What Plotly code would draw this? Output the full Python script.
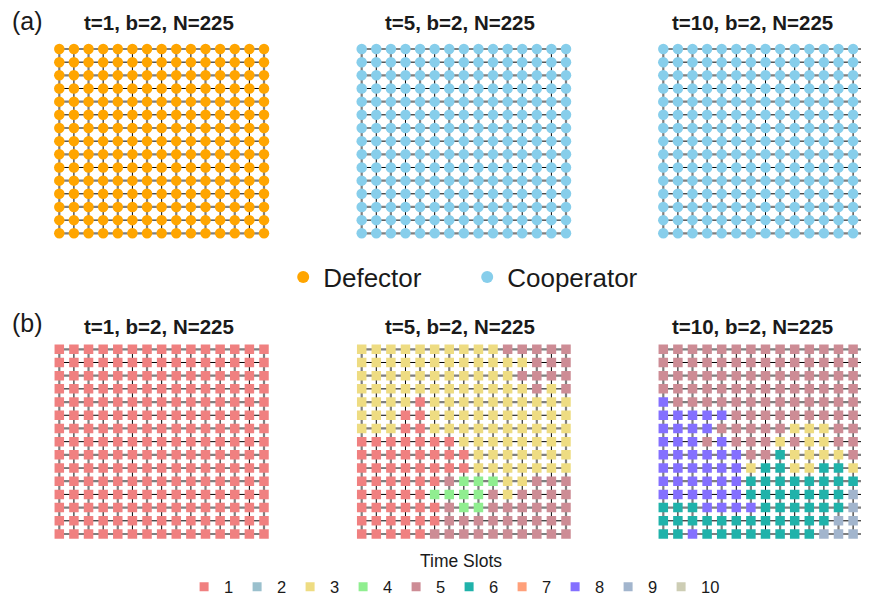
import plotly.graph_objects as go

# the page body adds an 8 px margin, so the figure is drawn 8 px smaller
OFF = 8
W, H = 869 - OFF, 597 - OFF
FONT = "Liberation Sans, Arial, Helvetica, sans-serif"

# ---------------- data ----------------
times = [1, 5, 10]
panel_titles = ["t=1, b=2, N=225", "t=5, b=2, N=225", "t=10, b=2, N=225"]
n_side = 15

# strategy of every node (row-major, 15 x 15): D = defector, C = cooperator
strategy_t1 = [["D"] * 15 for _ in range(15)]
strategy_t5 = [["C"] * 15 for _ in range(15)]
strategy_t10 = [["C"] * 15 for _ in range(15)]

# time slot of every node (row-major, top row first)
slot_t1 = [[1] * 15 for _ in range(15)]
slot_t5 = [
    [3, 3, 3, 3, 3, 3, 3, 3, 3, 3, 5, 5, 5, 5, 5],
    [3, 3, 3, 3, 3, 3, 3, 3, 3, 3, 3, 3, 5, 5, 5],
    [3, 3, 3, 3, 3, 3, 3, 3, 3, 3, 3, 5, 5, 5, 5],
    [3, 3, 3, 3, 3, 3, 3, 3, 3, 3, 3, 3, 5, 3, 5],
    [3, 3, 3, 3, 1, 3, 3, 3, 3, 3, 3, 3, 3, 3, 3],
    [3, 3, 3, 1, 1, 3, 3, 3, 3, 3, 3, 3, 3, 3, 3],
    [3, 3, 3, 1, 1, 3, 3, 3, 3, 3, 3, 3, 3, 3, 3],
    [1, 1, 1, 1, 1, 1, 1, 3, 3, 3, 3, 3, 3, 3, 3],
    [1, 1, 1, 1, 1, 1, 1, 1, 3, 3, 3, 3, 3, 3, 3],
    [1, 1, 1, 1, 1, 1, 1, 1, 3, 3, 3, 3, 3, 3, 3],
    [1, 1, 1, 1, 1, 1, 5, 4, 4, 4, 3, 3, 5, 5, 5],
    [1, 1, 1, 1, 1, 4, 4, 4, 4, 5, 3, 5, 5, 5, 5],
    [1, 1, 1, 1, 1, 1, 5, 4, 4, 5, 5, 5, 5, 5, 5],
    [1, 1, 1, 1, 1, 1, 5, 5, 5, 5, 5, 5, 5, 5, 5],
    [1, 1, 1, 1, 1, 5, 5, 5, 5, 5, 5, 5, 5, 5, 5],
]
slot_t10 = [
    [5, 5, 5, 5, 5, 5, 5, 5, 5, 5, 5, 5, 5, 5, 5],
    [5, 5, 5, 5, 5, 5, 5, 5, 5, 5, 5, 5, 5, 5, 5],
    [5, 5, 5, 5, 5, 5, 5, 5, 5, 5, 5, 5, 5, 5, 5],
    [5, 5, 5, 5, 5, 5, 5, 5, 5, 5, 5, 5, 5, 5, 5],
    [8, 5, 5, 5, 5, 5, 5, 5, 5, 5, 5, 5, 5, 5, 5],
    [8, 8, 8, 8, 8, 5, 5, 5, 5, 5, 5, 5, 5, 5, 5],
    [8, 8, 8, 8, 5, 5, 5, 5, 5, 3, 3, 3, 5, 5, 5],
    [8, 8, 8, 5, 8, 5, 5, 5, 3, 5, 3, 3, 5, 5, 5],
    [8, 8, 8, 8, 8, 8, 5, 5, 6, 3, 3, 3, 3, 5, 3],
    [8, 8, 8, 8, 8, 8, 3, 6, 6, 3, 3, 6, 6, 3, 9],
    [8, 8, 8, 8, 8, 8, 6, 6, 6, 6, 6, 6, 6, 6, 6],
    [8, 8, 8, 8, 8, 8, 6, 6, 6, 6, 6, 6, 6, 9, 9],
    [6, 6, 6, 8, 8, 8, 8, 6, 6, 6, 6, 6, 6, 9, 9],
    [6, 6, 6, 6, 6, 6, 6, 6, 6, 6, 6, 6, 9, 9, 9],
    [6, 6, 8, 6, 6, 6, 6, 6, 6, 6, 6, 9, 9, 9, 9],
]

strategy_names = {"D": "Defector", "C": "Cooperator"}
strategy_colors = {"D": "#FFA500", "C": "#87CEEB"}
slot_title = "Time Slots"
slot_labels = [1, 2, 3, 4, 5, 6, 7, 8, 9, 10]
slot_colors = ["#F08080", "#9AC0CD", "#EEDC82", "#90EE90", "#CD8C95",
               "#20B2AA", "#FFA07A", "#8470FF", "#A2B5CD", "#CDCDB4"]

strategies = [strategy_t1, strategy_t5, strategy_t10]
slots = [slot_t1, slot_t5, slot_t10]

# ---------------- layout geometry (window pixels) ----------------
PANEL_X = [(59.3, 264.0), (361.7, 566.0), (663.3, 867.7)]
ROW_Y = [(49.0, 233.3), (349.3, 534.0)]
TITLE_X = [159, 460, 752]
TITLE_Y = [22, 326]


def px(v):
    return (v - OFF) / W


def py(v):
    return 1 - (v - OFF) / H


fig = go.Figure()
layout_axes = {}


def axis_setup(row, col):
    idx = row * 3 + col + 1
    x0, x1 = [v - OFF for v in PANEL_X[col]]
    s = (x1 - x0) / (n_side - 1)
    left = x0 - 0.5 * s
    right = x1 + 0.5 * s
    rmax = n_side + 0.5
    if right > W:
        rmax -= (right - W) / s
        right = W
    y0, y1 = [v - OFF for v in ROW_Y[row]]
    sy = (y1 - y0) / (n_side - 1)
    top = y0 - 0.5 * sy
    bot = y1 + 0.5 * sy
    xa = "xaxis" if idx == 1 else f"xaxis{idx}"
    ya = "yaxis" if idx == 1 else f"yaxis{idx}"
    layout_axes[xa] = dict(domain=[left / W, right / W], range=[0.5, rmax],
                           visible=False, fixedrange=True,
                           anchor="y" if idx == 1 else f"y{idx}")
    layout_axes[ya] = dict(domain=[1 - bot / H, 1 - top / H],
                           range=[n_side + 0.5, 0.5], visible=False, fixedrange=True,
                           anchor="x" if idx == 1 else f"x{idx}")
    return ("x" if idx == 1 else f"x{idx}"), ("y" if idx == 1 else f"y{idx}")


def add_edges(xr, yr):
    gx, gy, bx, by = [], [], [], []
    for r in range(1, n_side + 1):
        for c in range(1, n_side + 1):
            if c < n_side:  # horizontal edge
                if r % 2 == 1:
                    gx += [c, c + 1, None]; gy += [r, r, None]
                else:
                    bx += [c, c + 1, None]; by += [r, r, None]
            if r < n_side:  # vertical edge
                if c % 2 == 1:
                    gx += [c, c, None]; gy += [r, r + 1, None]
                else:
                    bx += [c, c, None]; by += [r, r + 1, None]
    fig.add_trace(go.Scatter(x=gx, y=gy, mode="lines", xaxis=xr, yaxis=yr,
                             line=dict(color="#7F7F7F", width=2.2),
                             hoverinfo="skip", showlegend=False))
    fig.add_trace(go.Scatter(x=bx, y=by, mode="lines", xaxis=xr, yaxis=yr,
                             line=dict(color="#000000", width=1),
                             hoverinfo="skip", showlegend=False))


# row (a): strategies
for col in range(3):
    xr, yr = axis_setup(0, col)
    add_edges(xr, yr)
    grid = strategies[col]
    for key in ["D", "C"]:
        xs, ys = [], []
        for r in range(n_side):
            for c in range(n_side):
                if grid[r][c] == key:
                    xs.append(c + 1); ys.append(r + 1)
        if xs:
            fig.add_trace(go.Scatter(x=xs, y=ys, mode="markers", xaxis=xr, yaxis=yr,
                                     marker=dict(color=strategy_colors[key], size=10.5,
                                                 symbol="circle", line=dict(width=0)),
                                     name=strategy_names[key], showlegend=False))

# row (b): time slots
for col in range(3):
    xr, yr = axis_setup(1, col)
    add_edges(xr, yr)
    grid = slots[col]
    for k, lab in enumerate(slot_labels):
        xs, ys = [], []
        for r in range(n_side):
            for c in range(n_side):
                if grid[r][c] == lab:
                    xs.append(c + 1); ys.append(r + 1)
        if xs:
            fig.add_trace(go.Scatter(x=xs, y=ys, mode="markers", xaxis=xr, yaxis=yr,
                                     marker=dict(color=slot_colors[k], size=9.5,
                                                 symbol="square", line=dict(width=0)),
                                     name=str(lab), showlegend=False))

# legend entries
for key in ["D", "C"]:
    fig.add_trace(go.Scatter(x=[None], y=[None], mode="markers",
                             marker=dict(color=strategy_colors[key], size=12, symbol="circle"),
                             name=strategy_names[key], legend="legend", showlegend=True))
for k, lab in enumerate(slot_labels):
    fig.add_trace(go.Scatter(x=[None], y=[None], mode="markers",
                             marker=dict(color=slot_colors[k], size=9, symbol="square"),
                             name=str(lab), legend="legend2", showlegend=True))
# blank trailing entry so the last label is not clipped by the fixed entry width
fig.add_trace(go.Scatter(x=[None], y=[None], mode="markers",
                         marker=dict(color="rgba(0,0,0,0)", size=9, symbol="square"),
                         name=" ", legend="legend2", showlegend=True, hoverinfo="skip"))

annotations = []
for row in range(2):
    for col in range(3):
        annotations.append(dict(text=f"<b>{panel_titles[col]}</b>", x=px(TITLE_X[col]),
                                y=py(TITLE_Y[row]), xref="paper", yref="paper",
                                xanchor="center", yanchor="middle", showarrow=False,
                                font=dict(family=FONT, size=20.5, color="#1a1a1a")))
annotations.append(dict(text="(a)", x=px(10), y=py(21), xref="paper", yref="paper",
                        xanchor="left", yanchor="middle", showarrow=False,
                        font=dict(family=FONT, size=25, color="#1a1a1a")))
annotations.append(dict(text="(b)", x=px(10), y=py(323), xref="paper", yref="paper",
                        xanchor="left", yanchor="middle", showarrow=False,
                        font=dict(family=FONT, size=25, color="#1a1a1a")))
annotations.append(dict(text=slot_title, x=px(461), y=py(561), xref="paper", yref="paper",
                        xanchor="center", yanchor="middle", showarrow=False,
                        font=dict(family=FONT, size=17.5, color="#1a1a1a")))

fig.update_layout(
    width=W, height=H,
    margin=dict(l=0, r=0, t=0, b=0, autoexpand=False),
    paper_bgcolor="white", plot_bgcolor="white",
    font=dict(family=FONT, color="#1a1a1a"),
    annotations=annotations,
    legend=dict(orientation="h", x=px(467.2), xanchor="center",
                y=py(277), yanchor="middle",
                font=dict(family=FONT, size=26, color="#1a1a1a"),
                itemsizing="trace", entrywidth=139, entrywidthmode="pixels",
                bgcolor="rgba(0,0,0,0)", traceorder="normal"),
    legend2=dict(orientation="h", x=px(184.1), xanchor="left",
                 y=py(587), yanchor="middle",
                 font=dict(family=FONT, size=16.5, color="#1a1a1a"),
                 itemsizing="trace", entrywidth=8, entrywidthmode="pixels",
                 bgcolor="rgba(0,0,0,0)", traceorder="normal"),
    **layout_axes,
)

fig.write_html("out.html")
